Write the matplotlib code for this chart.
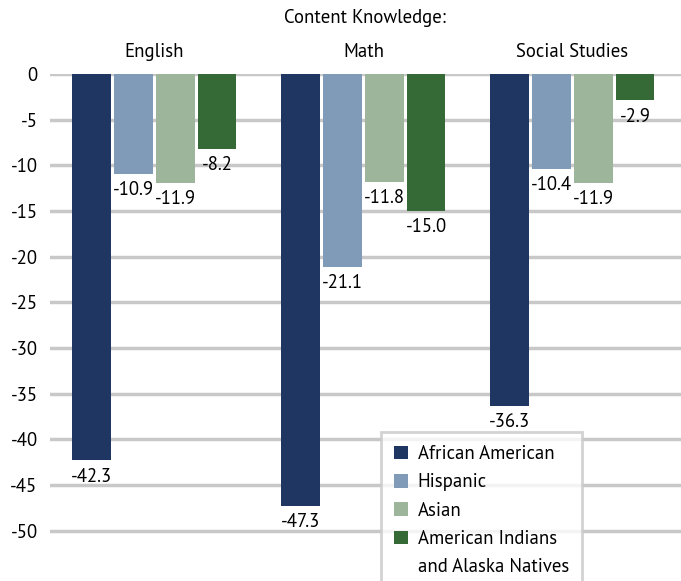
import matplotlib.pyplot as plt
from matplotlib.patches import Patch
import numpy as np

subjects = ['English', 'Math', 'Social Studies']
groups = ['African American', 'Hispanic', 'Asian', 'American Indians\nand Alaska Natives']
values = {
    'African American': [-42.3, -47.3, -36.3],
    'Hispanic': [-10.9, -21.1, -10.4],
    'Asian': [-11.9, -11.8, -11.9],
    'American Indians\nand Alaska Natives': [-8.2, -15.0, -2.9],
}
colors = ['#1f3662', '#7f9bb8', '#9db59b', '#356935']
yticks = [0, -5, -10, -15, -20, -25, -30, -35, -40, -45, -50]

plt.rcParams['font.family'] = ['PT Sans', 'DejaVu Sans']
fs = 13.5

fig = plt.figure(figsize=(6.81, 5.81), dpi=100)
ax = fig.add_axes([50 / 681, 0, 631 / 681, (581 - 74) / 581])

x = np.arange(len(subjects))
step = 0.2
width = 0.185
handles, labels = [], []
for i, g in enumerate(groups):
    pos = x + (i - 1.5) * step
    b = ax.bar(pos, values[g], width, color=colors[i], label=g, zorder=3)
    for p, v in zip(pos, values[g]):
        ax.text(p, v - 0.8, f'{v:.1f}', ha='center', va='top', fontsize=fs, zorder=4)
    # wrapped legend label: the second line gets its own row, like the original
    parts = g.split('\n')
    handles.append(b)
    labels.append(parts[0])
    for extra in parts[1:]:
        handles.append(Patch(facecolor='none', edgecolor='none'))
        labels.append(extra)

ax.set_xlim(-0.5, 2.52)
ax.set_ylim(-55.5, 0)
ax.set_yticks(yticks)
ax.set_yticklabels([str(t) for t in yticks], fontsize=fs)
ax.set_xticks([])
ax.tick_params(axis='y', length=0, pad=9)
ax.grid(axis='y', color='#c8c8c8', linewidth=2.5, zorder=0)
for s in ax.spines.values():
    s.set_visible(False)

for xi, s in zip(x, subjects):
    ax.text(xi, 1.4, s, ha='center', va='bottom', fontsize=fs)
fig.text(365 / 681, 1 - 18 / 581, 'Content Knowledge:', ha='center', va='center', fontsize=fs)

leg = fig.legend(handles, labels, loc='upper left', bbox_to_anchor=(381 / 681, (581 - 432) / 581),
                 fontsize=fs, frameon=True, fancybox=False, edgecolor='#c8c8c8',
                 handlelength=0.75, handleheight=0.75, handletextpad=0.5,
                 labelspacing=0.55, borderpad=0.7, borderaxespad=0)
leg.get_frame().set_linewidth(2)

fig.savefig('out.png', dpi=100)
